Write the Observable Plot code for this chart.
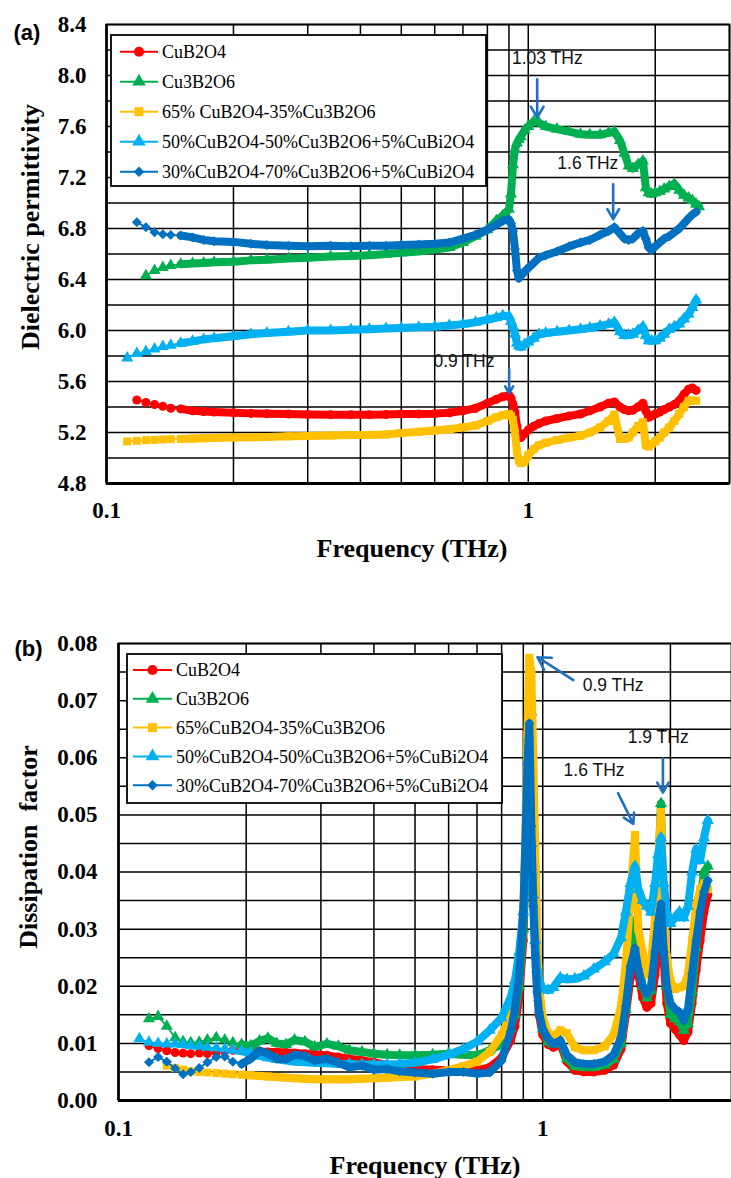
<!DOCTYPE html>
<html><head><meta charset="utf-8">
<script src="https://cdn.jsdelivr.net/npm/d3@7"></script>
<script src="https://cdn.jsdelivr.net/npm/@observablehq/plot@0.6"></script>
<style>
body{margin:0;background:#fff;width:731px;height:1178px;overflow:hidden;}
#chart svg{display:block;}
</style></head><body><div id="chart"></div>
<script>
// ---------- series meta ----------
const seriesColors = ["#FF0000","#00B050","#FFC000","#00B0F0","#0070C0"];
const seriesSymbols = ["circle","triangle","square","triangle","diamond2"];
const legendTop = ["CuB2O4","Cu3B2O6","65% CuB2O4-35%Cu3B2O6","50%CuB2O4-50%Cu3B2O6+5%CuBi2O4","30%CuB2O4-70%Cu3B2O6+5%CuBi2O4"];
const legendBottom = ["CuB2O4","Cu3B2O6","65%CuB2O4-35%Cu3B2O6","50%CuB2O4-50%Cu3B2O6+5%CuBi2O4","30%CuB2O4-70%Cu3B2O6+5%CuBi2O4"];

// ---------- ticks ----------
const xGrid = [0.1,0.2,0.3,0.4,0.5,0.6,0.7,0.8,0.9,1,2,3];
const xTicks = [0.1, 1];
const yTicksTop = [4.8,5.2,5.6,6.0,6.4,6.8,7.2,7.6,8.0,8.4];
const yGridTop = [4.8,5.0,5.2,5.4,5.6,5.8,6.0,6.2,6.4,6.6,6.8,7.0,7.2,7.4,7.6,7.8,8.0,8.2,8.4];
const yTicksBot = [0,0.01,0.02,0.03,0.04,0.05,0.06,0.07,0.08];
const yGridBot = [0,0.005,0.01,0.015,0.02,0.025,0.03,0.035,0.04,0.045,0.05,0.055,0.06,0.065,0.07,0.075,0.08];

// ---------- panel (a): dielectric permittivity ----------
const freqA = [0.112,0.118,0.124,0.13,0.136,0.142,0.15,0.16,0.17,0.18,
0.2,0.22,0.24,0.27,0.3,0.34,0.38,0.42,0.46,0.5,
0.55,0.6,0.65,0.7,0.75,0.8,0.84,0.87,0.9,0.91,
0.92,0.93,0.94,0.95,0.96,0.98,1.0,1.03,1.06,1.1,
1.17,1.25,1.33,1.4,1.48,1.55,1.6,1.65,1.69,1.73,
1.77,1.82,1.87,1.9,1.93,1.96,2.0,2.05,2.1,2.16,
2.22,2.28,2.34,2.4,2.45,2.5,2.54];
const epsCuB2O4 = [null,5.455,5.435,5.42,5.405,5.39,5.385,5.37,5.365,5.36,
5.355,5.35,5.348,5.345,5.342,5.34,5.34,5.34,5.342,5.345,
5.345,5.348,5.355,5.37,5.39,5.43,5.46,5.48,5.49,5.47,
5.42,5.36,5.25,5.18,5.16,5.19,5.22,5.25,5.27,5.29,
5.31,5.33,5.345,5.37,5.40,5.43,5.44,5.40,5.38,5.37,
5.375,5.40,5.43,5.37,5.32,5.33,5.345,5.36,5.38,5.40,
5.42,5.45,5.50,5.54,5.55,5.53,null];
const epsCu3B2O6 = [null,null,6.43,6.47,6.495,6.51,6.52,6.525,6.53,6.535,
6.54,6.55,6.555,6.565,6.57,6.58,6.585,6.59,6.60,6.61,
6.62,6.635,6.65,6.69,6.74,6.79,6.86,6.90,6.95,7.07,
7.30,7.42,7.47,7.50,7.52,7.57,7.60,7.64,7.63,7.60,
7.58,7.56,7.54,7.535,7.535,7.55,7.56,7.49,7.39,7.29,
7.27,7.30,7.33,7.12,7.08,7.07,7.08,7.09,7.11,7.13,
7.15,7.10,7.06,7.04,7.02,6.99,6.97];
const eps65 = [5.13,5.135,5.14,5.142,5.145,5.148,5.15,5.152,5.155,5.157,
5.16,5.163,5.165,5.17,5.173,5.177,5.18,5.18,5.185,5.195,
5.205,5.215,5.225,5.24,5.255,5.29,5.32,5.335,5.345,5.33,
5.30,5.20,5.05,4.98,4.96,4.97,5.02,5.07,5.10,5.12,
5.14,5.16,5.175,5.20,5.24,5.29,5.34,5.15,5.15,5.16,
5.20,5.25,5.28,5.10,5.09,5.11,5.13,5.16,5.20,5.24,
5.29,5.345,5.40,5.45,5.45,5.45,null];
const eps50 = [5.785,5.82,5.835,5.855,5.875,5.885,5.90,5.915,5.93,5.94,
5.955,5.97,5.98,5.99,6.0,6.0,6.005,6.01,6.015,6.02,
6.025,6.03,6.04,6.05,6.065,6.085,6.10,6.115,6.11,6.07,
6.03,5.97,5.90,5.88,5.87,5.89,5.91,5.94,5.97,5.98,
5.99,6.0,6.01,6.02,6.035,6.05,6.065,5.99,5.96,5.965,
5.97,6.0,6.03,5.96,5.92,5.92,5.92,5.94,5.97,6.01,
6.03,6.05,6.09,6.13,6.18,6.24,null];
const eps30 = [null,6.85,6.81,6.77,6.755,6.75,6.745,6.73,6.71,6.70,
6.695,6.68,6.67,6.665,6.66,6.665,6.66,6.665,6.665,6.67,
6.675,6.68,6.69,6.72,6.75,6.79,6.83,6.86,6.87,6.84,
6.78,6.64,6.47,6.41,6.43,6.46,6.49,6.53,6.57,6.59,
6.62,6.66,6.69,6.71,6.75,6.78,6.81,6.76,6.72,6.71,
6.72,6.76,6.78,6.72,6.65,6.63,6.66,6.69,6.72,6.74,
6.77,6.80,6.84,6.88,6.91,6.93,null];

// ---------- panel (b): dissipation factor ----------
const freqB = [0.112,0.118,0.124,0.13,0.136,0.142,0.148,0.155,0.162,0.17,
0.178,0.186,0.195,0.205,0.215,0.225,0.236,0.248,0.26,0.275,
0.29,0.31,0.33,0.35,0.375,0.4,0.43,0.46,0.5,0.55,
0.6,0.65,0.7,0.75,0.8,0.84,0.86,0.88,0.9,0.91,
0.92,0.93,0.94,0.95,0.96,0.97,0.98,1.0,1.03,1.06,
1.1,1.14,1.19,1.25,1.32,1.4,1.47,1.53,1.57,1.61,
1.65,1.68,1.72,1.76,1.8,1.84,1.87,1.9,1.93,1.96,
2.0,2.05,2.1,2.15,2.2,2.25,2.3,2.35,2.4,2.45];
const tanCuB2O4 = [null,0.0096,0.0091,0.0087,0.0084,0.0083,0.0082,0.0083,0.0082,0.0084,
0.0086,0.0088,0.0088,0.0087,0.0086,0.0085,0.0085,0.0084,0.0083,0.0082,
0.0081,0.0079,0.0076,0.0073,0.0070,0.0067,0.0062,0.0058,0.0055,0.0054,
0.0053,0.0053,0.0053,0.0058,0.0075,0.0105,0.013,0.018,0.028,0.040,
0.055,0.063,0.052,0.038,0.027,0.020,0.015,0.0115,0.0098,0.0093,
0.0099,0.0068,0.0053,0.0050,0.0050,0.0053,0.0062,0.0090,0.015,0.0215,
0.026,0.022,0.018,0.0163,0.017,0.022,0.027,0.033,0.024,0.017,
0.0135,0.0125,0.0115,0.0105,0.012,0.017,0.0228,0.028,0.033,0.036];
const tanCu3B2O6 = [null,0.0143,0.0147,0.0130,0.0110,0.0103,0.0101,0.0102,0.0106,0.0110,
0.0106,0.0101,0.0098,0.0096,0.0104,0.0109,0.0100,0.0098,0.0106,0.0103,
0.0094,0.0099,0.0095,0.0088,0.0085,0.0082,0.0080,0.0079,0.0079,0.0080,
0.0082,0.0080,0.0079,0.0088,0.0098,0.0125,0.015,0.020,0.030,0.040,
0.052,0.063,0.068,0.050,0.034,0.024,0.018,0.0125,0.0103,0.0099,
0.0105,0.0073,0.0060,0.0058,0.0058,0.0062,0.0072,0.010,0.016,0.0239,
0.0315,0.025,0.020,0.018,0.0193,0.028,0.040,0.052,0.030,0.020,
0.015,0.0143,0.0138,0.0123,0.0135,0.019,0.0268,0.035,0.040,0.041];
const tan65 = [null,null,null,0.0061,0.0057,0.0054,0.0051,0.0050,0.0049,0.0048,
0.0047,0.0046,0.0045,0.0044,0.0043,0.0042,0.0041,0.0040,0.0039,0.0038,
0.0037,0.0037,0.0037,0.0037,0.0038,0.0039,0.0040,0.0041,0.0042,0.0047,
0.0053,0.0060,0.0068,0.0085,0.0115,0.015,0.018,0.024,0.034,0.046,
0.064,0.0775,0.075,0.060,0.045,0.030,0.020,0.0145,0.0117,0.0113,
0.0123,0.0118,0.0093,0.0088,0.0088,0.0095,0.0115,0.0165,0.024,0.036,
0.0465,0.030,0.026,0.022,0.024,0.032,0.042,0.0505,0.032,0.025,
0.021,0.0195,0.0198,0.020,0.022,0.028,0.034,0.037,0.038,0.037];
const tan50 = [0.0108,0.0102,0.0100,0.0099,0.0099,0.0098,0.0096,0.0095,0.0093,0.0092,
0.0090,0.0088,0.0086,0.0083,0.0078,0.0075,0.0072,0.0070,0.0068,0.0067,
0.0066,0.0065,0.0064,0.0064,0.0063,0.0063,0.0063,0.0064,0.0066,0.0072,
0.0080,0.0090,0.0103,0.0123,0.0145,0.018,0.021,0.026,0.033,0.040,
0.048,0.052,0.045,0.036,0.028,0.023,0.021,0.0197,0.0193,0.0198,
0.0215,0.0212,0.0213,0.0218,0.023,0.0243,0.0257,0.0285,0.033,0.038,
0.041,0.037,0.035,0.034,0.033,0.038,0.043,0.046,0.038,0.033,
0.031,0.032,0.033,0.032,0.034,0.040,0.044,0.042,0.046,0.049];
const tan30 = [null,0.0067,0.0076,0.0068,0.0056,0.0046,0.0050,0.0057,0.0067,0.0076,
0.0077,0.0068,0.0064,0.0073,0.0087,0.0082,0.0073,0.0072,0.0080,0.0078,
0.0070,0.0073,0.0066,0.0058,0.0061,0.0054,0.0055,0.0051,0.0049,0.0047,
0.0050,0.0050,0.0047,0.0049,0.0070,0.012,0.016,0.022,0.033,0.045,
0.059,0.066,0.048,0.034,0.025,0.019,0.0155,0.0125,0.0108,0.0099,
0.0105,0.0080,0.0067,0.0064,0.0064,0.0068,0.0080,0.011,0.0165,0.0235,
0.0266,0.023,0.020,0.0187,0.0198,0.026,0.031,0.0344,0.026,0.020,
0.017,0.016,0.0155,0.014,0.016,0.0222,0.028,0.033,0.0365,0.0385];

// ---------- annotations (data coordinates) ----------
const notesTop = [
  {label:"1.03 THz", f:0.915, v:8.136},
  {label:"1.6 THz", f:1.172, v:7.312},
  {label:"0.9 THz", f:0.596, v:5.759}
];
const arrowsTop = [
  {f1:1.05, v1:7.97, f2:1.05, v2:7.67},
  {f1:1.59, v1:7.147, f2:1.59, v2:6.873},
  {f1:0.901, v1:5.696, f2:0.901, v2:5.508}
];
const notesBot = [
  {label:"0.9 THz", f:1.242, v:0.0727},
  {label:"1.9 THz", f:1.586, v:0.0636},
  {label:"1.6 THz", f:1.120, v:0.0578}
];
const arrowsBot = [
  {f1:1.181, v1:0.0736, f2:0.972, v2:0.0776},
  {f1:1.92, v1:0.0599, f2:1.92, v2:0.0539},
  {f1:1.505, v1:0.0538, f2:1.635, v2:0.0484}
];

const serif = "'Liberation Serif', 'Times New Roman', 'DejaVu Serif', serif";
const sans = "'Liberation Sans', Arial, 'DejaVu Sans', sans-serif";
const arrowColor = "#1f70c1";

function drawPanel(cfg) {
  const data = [];
  cfg.values.forEach((vals, s) => vals.forEach((v, j) => {
    if (v !== null) data.push({f: cfg.freq[j], v, s});
  }));
  const marks = [
    Plot.ruleX(xGrid.filter(t => t <= cfg.xDomain[1]), {stroke:"#000", strokeWidth:1.5}),
    Plot.ruleY(cfg.yGrid, {stroke:"#000", strokeWidth:1.5}),
    Plot.frame({stroke:"#000", strokeWidth:1.8}),
    Plot.ruleX([cfg.xDomain[0]], {stroke:"#000", strokeWidth:2.5}),
    Plot.ruleY([cfg.yDomain[0]], {stroke:"#000", strokeWidth:3})
  ];
  seriesColors.forEach((c, s) => {
    const d = data.filter(r => r.s === s);
    marks.push(Plot.line(d, {x:"f", y:"v", stroke:c, strokeWidth:1.8}));
    marks.push(Plot.line(d.filter(r => r.f >= cfg.bandFrom), {x:"f", y:"v", stroke:c, strokeWidth:8, strokeLinejoin:"round", strokeLinecap:"round"}));
    marks.push(Plot.dot(d, {x:"f", y:"v", symbol:seriesSymbols[s], fill:c, r:4.5}));
  });
  marks.push(
    Plot.arrow(cfg.arrows, {x1:"f1", y1:"v1", x2:"f2", y2:"v2", stroke:arrowColor, strokeWidth:2.6, headLength:9}),
    Plot.text(cfg.notes, {x:"f", y:"v", text:"label", textAnchor:"start", lineAnchor:"middle", fontSize:17.5, fontFamily:sans, fill:"#111"}),
    Plot.axisY({ticks:cfg.yTicks, tickSize:0, tickPadding:cfg.yPad, tickFormat:d3.format(cfg.yFmt), fontSize:23, fontWeight:"bold", fontFamily:serif, label:null}),
    Plot.axisX({ticks:xTicks, tickSize:0, tickPadding:cfg.xPad, tickFormat:d => (d === 1 ? "1" : "0.1"), fontSize:23, fontWeight:"bold", fontFamily:serif, label:null}),
    Plot.text([cfg.yTitle], {text:d => d, frameAnchor:"left", textAnchor:"middle", lineAnchor:"middle", dx:cfg.yTitleDx, dy:cfg.yTitleDy, rotate:-90, fontSize:26, fontWeight:"bold", fontFamily:serif, fill:"#000"}),
    Plot.text(["Frequency (THz)"], {text:d => d, frameAnchor:"bottom", textAnchor:"middle", lineAnchor:"middle", dx:cfg.xTitleDx, dy:65, fontSize:26, fontWeight:"bold", fontFamily:serif, fill:"#000"}),
    Plot.text([cfg.tag], {text:d => d, frameAnchor:"top-left", textAnchor:"start", lineAnchor:"middle", dx:cfg.tagDx, dy:cfg.tagDy, fontSize:22, fontWeight:"bold", fontFamily:sans, fill:"#000"})
  );
  const svg = Plot.plot({
    width:731, height:cfg.height,
    marginTop:cfg.mt, marginBottom:cfg.mb, marginLeft:cfg.ml, marginRight:cfg.mr,
    x:{type:"log", domain:cfg.xDomain},
    y:{domain:cfg.yDomain},
    style:{fontSize:"21px", color:"#000", background:"#fff", overflow:"visible"},
    marks
  });
  addLegend(svg, cfg.legend, cfg.leg);
  return svg;
}

function addLegend(svg, labels, L) {
  const symMap = {circle:d3.symbolCircle, triangle:d3.symbolTriangle, square:d3.symbolSquare, diamond2:d3.symbolSquare};
  const g = d3.select(svg).append("g").attr("text-anchor", "start");
  g.append("rect").attr("x", L.x).attr("y", L.y).attr("width", L.w).attr("height", L.h)
    .attr("fill", "#fff").attr("stroke", "#000").attr("stroke-width", 1.8);
  labels.forEach((lab, i) => {
    const y = L.row0 + i * L.step;
    g.append("line").attr("x1", L.lx1).attr("x2", L.lx2).attr("y1", y).attr("y2", y)
      .attr("stroke", seriesColors[i]).attr("stroke-width", 2);
    const sym = seriesSymbols[i];
    g.append("path").attr("d", d3.symbol(symMap[sym], sym === "diamond2" ? 55 : 80)())
      .attr("transform", `translate(${(L.lx1 + L.lx2) / 2},${y})` + (sym === "diamond2" ? " rotate(45)" : ""))
      .attr("fill", seriesColors[i]);
    g.append("text").attr("x", L.tx).attr("y", y).attr("dy", "0.35em").attr("text-anchor", "start")
      .style("font-family", serif).style("font-size", "18px").attr("fill", "#000").text(lab);
  });
}

const panelA = drawPanel({
  freq:freqA, values:[epsCuB2O4, epsCu3B2O6, eps65, eps50, eps30],
  height:590, mt:24, mb:107, ml:106, mr:2,
  xDomain:[0.1, 3], yDomain:[4.8, 8.4], yGrid:yGridTop, yTicks:yTicksTop, yFmt:".1f",
  yPad:20, xPad:18, bandFrom:0.15,
  yTitle:"Dielectric permittivity", yTitleDx:-76, yTitleDy:-27, xTitleDx:-6,
  tag:"(a)", tagDx:-93, tagDy:8,
  notes:notesTop, arrows:arrowsTop, legend:legendTop,
  leg:{x:111, y:35, w:375, h:151, row0:51.7, step:30, lx1:120, lx2:158, tx:162}
});
const panelB = drawPanel({
  freq:freqB, values:[tanCuB2O4, tanCu3B2O6, tan65, tan50, tan30],
  height:588, mt:53, mb:78, ml:118, mr:0,
  xDomain:[0.1, 2.786], yDomain:[0, 0.08], yGrid:yGridBot, yTicks:yTicksBot, yFmt:".2f",
  yPad:21, xPad:19, bandFrom:0.19,
  yTitle:"Dissipation  factor", yTitleDx:-90, yTitleDy:-25, xTitleDx:0,
  tag:"(b)", tagDx:-104, tagDy:5,
  notes:notesBot, arrows:arrowsBot, legend:legendBottom,
  leg:{x:127, y:64, w:375, h:149, row0:80, step:28.8, lx1:133, lx2:172, tx:176}
});
document.getElementById("chart").append(panelA, panelB);
</script></body></html>
